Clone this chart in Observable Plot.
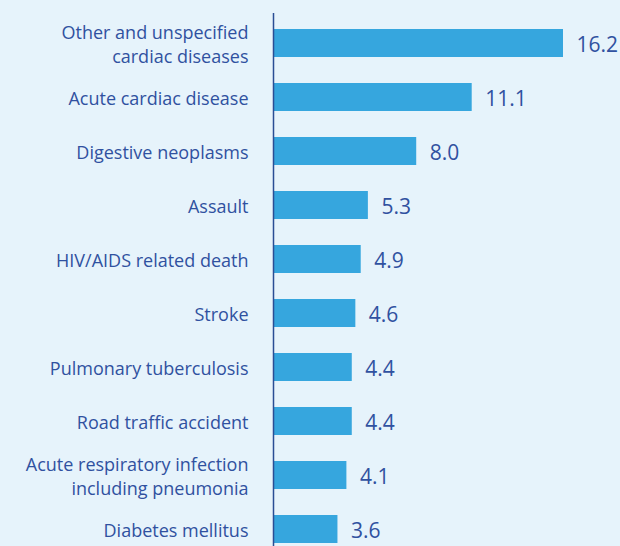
<!DOCTYPE html>
<html>
<head>
<meta charset="utf-8">
<script src="https://cdn.jsdelivr.net/npm/d3@7"></script>
<script src="https://cdn.jsdelivr.net/npm/@observablehq/plot@0.6"></script>
<style>
  html, body { margin: 0; padding: 0; background: #e6f3fb; overflow: hidden; width: 620px; height: 546px; }
  #chart svg { display: block; background: #e6f3fb; }
</style>
</head>
<body>
<div id="chart"></div>
<script>
const causes = [
  "Other and unspecified\ncardiac diseases",
  "Acute cardiac disease",
  "Digestive neoplasms",
  "Assault",
  "HIV/AIDS related death",
  "Stroke",
  "Pulmonary tuberculosis",
  "Road traffic accident",
  "Acute respiratory infection\nincluding pneumonia",
  "Diabetes mellitus"
];
const values = [16.2, 11.1, 8.0, 5.3, 4.9, 4.6, 4.4, 4.4, 4.1, 3.6];

const data = causes.map((c, i) => ({id: i, cause: c, value: values[i]}));

const textColor = "#3051a0";
const chart = Plot.plot({
  width: 620,
  height: 559,
  marginLeft: 273,
  marginRight: 57,
  marginTop: 13,
  marginBottom: 0,
  style: {background: "#e6f3fb", fontFamily: "'Open Sans', sans-serif"},
  x: {domain: [0, 16.2], axis: null},
  y: {domain: data.map(d => d.id), axis: null, paddingInner: 0.49, paddingOuter: 0.245},
  marks: [
    Plot.barX(data, {x: "value", y: "id", fill: "#36a6de"}),
    Plot.ruleX([0], {stroke: "#2a4d94", strokeWidth: 1.5}),
    Plot.text(data, {x: 0, y: "id", text: "cause", textAnchor: "end", dx: -25, fill: textColor, fontSize: 18, lineHeight: 1.3}),
    Plot.text(data, {x: "value", y: "id", text: d => d.value.toFixed(1), textAnchor: "start", dx: 13, dy: 2, fill: textColor, fontSize: 21})
  ]
});
document.getElementById("chart").append(chart);
</script>
</body>
</html>
